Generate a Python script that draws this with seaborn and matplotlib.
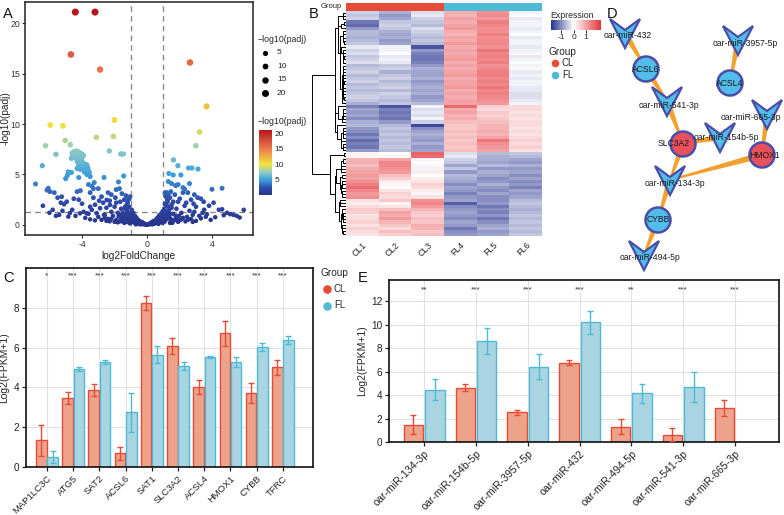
import numpy as np
import pandas as pd
import matplotlib
matplotlib.use("Agg")
import matplotlib.pyplot as plt
import seaborn as sns
from matplotlib.colors import LinearSegmentedColormap, ListedColormap, Normalize
from matplotlib.cm import ScalarMappable
from matplotlib.patches import Polygon, Circle

# ---------------- data ----------------
# Panel A: volcano points (log2FoldChange, -log10(padj))
volc_lfc = [-4.41, -3.20, -4.68, -2.89, 2.63, 3.65, -5.95, -5.17, -2.01, -3.12, -2.07, 3.22, 2.99,
            -6.24, -5.03, -4.72, -5.60, -2.32, -1.62, -1.46,
            -4.60, -4.50, -4.40, -4.30, -4.20, -4.10, -4.00, -4.55, -4.45, -4.30, -4.15, -4.00, -3.92,
            -4.65, -4.35, -4.25, -4.10,
            -4.30, -4.15, -4.00, -3.90, -3.80, -3.70, -4.20, -4.05, -3.85, -3.65, -3.95, -3.75, -3.60,
            -4.10, -3.55, -3.70, -3.85, -4.30, -3.50,
            -6.44, -4.85, -4.65, -5.00, -4.90, -4.20, -3.40, -3.60, -3.25, -3.00, -3.30, -2.65, -2.40,
            -1.44, -1.76, -1.90, -1.55, -1.70, -1.30, -1.40, -1.20, -1.10,
            -6.85, -6.07, -5.97, -6.15, -5.25, -4.94, -5.30, -5.10, -4.74, -4.84, -4.12, -3.50, -3.71,
            -2.89, -2.48, -2.28, -3.10, -2.65,
            -5.70, -5.50, -4.60, -4.50, -4.30, -4.10, -4.00, -3.90, -3.60, -3.40, -3.20, -2.80, -2.70,
            -2.60, -2.50, -2.30, -2.20, -2.10, -2.00, -1.90, -1.80, -1.70, -1.60, -1.50, -1.40, -5.40,
            -5.80, -6.00, -4.40, -3.80, -3.00, -2.40, -6.40, -5.60, -5.20, -4.20, -3.30, -3.50, -2.95,
            -2.20, -1.95, -1.65, -1.35, -1.25,
            1.62, 1.89, 2.54, 2.75, 3.12, 1.33, 1.60, 2.07, 1.30, 1.50, 1.90, 2.20, 2.30, 1.20, 1.45,
            1.70, 2.00, 2.50, 2.70, 2.90, 3.10, 3.30, 3.98, 4.60, 3.47, 4.08, 5.93, 4.60, 5.10, 5.31,
            5.68, 4.18, 4.70, 3.67, 2.30, 2.60, 2.80, 3.00, 3.40, 3.20, 2.10, 1.80, 1.50, 1.90, 2.40,
            1.30, 1.10, 1.25, 1.40, 1.60, 4.40, 3.50, 2.90, 3.80, 2.20, 1.75, 2.60, 2.85, 3.60, 4.90,
            5.50, 2.45, 1.95,
            -1.50, -1.45, -1.35, -1.30, -1.25, -1.20, -1.15, -1.10, -1.05, -1.00, -0.95, -0.90, -0.85,
            -0.80, -0.75, -0.70, -0.65, -0.60, -0.55, -0.50, -0.45, -0.40, -0.35, -0.30, -0.25, -0.20,
            -0.15, -0.10, -0.05, 0.00, 0.05, 0.10, 0.15, 0.20, 0.25, 0.30, 0.35, 0.40, 0.45, 0.50,
            0.55, 0.60, 0.65, 0.70, 0.75, 0.80, 0.85, 0.90, 0.95, 1.00, 1.05, 1.10, 1.15, 1.20, 1.25,
            1.30, 1.35, 1.40, 1.45, 1.50,
            -2.80, -2.50, -2.20, -1.90, -1.70, -1.60, 1.60, 1.80, 2.00, 2.20, 2.50, 2.70, 3.00,
            -1.40, -1.20, -1.00, -0.90, -0.80, -0.70, -0.60, -0.50, -0.40, -0.30, -0.20, 0.20, 0.30,
            0.40, 0.50, 0.60, 0.70, 0.80, 0.90, 1.00, 1.10, 1.20, 1.30, 1.40, -1.10, -0.95, -0.75,
            -0.65, 0.65, 0.75, 0.95, 1.05, -1.35, 1.35, -1.25, 1.25,
            -1.15, 1.15, 1.30, 1.10, -1.05,
            -2.00, -1.80, -1.55, -1.45, -1.30, -1.05, -0.85, -0.55, -0.35, 0.35, 0.55, 0.85, 1.05,
            1.45, 1.55, 1.70, 1.90, 2.10, 2.35, -2.30, -2.60, -3.20, -3.50, 2.80, 3.30, 3.90,
            -1.60, -1.20, -0.95, 1.00, 1.20, 1.60, -1.75, 1.75, -0.70, 0.70]
volc_nlp = [21.1, 21.1, 16.9, 15.4, 16.1, 11.75, 9.9, 9.83, 10.4, 8.68, 8.78, 9.2, 7.85,
            7.85, 8.38, 7.95, 7.0, 7.33, 7.03, 7.03,
            7.10, 7.25, 7.30, 7.30, 7.20, 7.10, 7.00, 6.80, 6.90, 6.95, 6.85, 6.70, 6.90,
            6.60, 6.60, 6.50, 6.45,
            6.30, 6.20, 6.30, 6.10, 6.00, 5.95, 5.95, 5.90, 5.80, 5.70, 5.60, 5.50, 5.40,
            5.50, 5.20, 5.00, 5.25, 5.60, 4.80,
            5.87, 5.25, 5.20, 4.60, 4.90, 4.70, 3.85, 4.00, 4.20, 3.60, 3.60, 4.70, 3.20,
            4.85, 4.26, 3.50, 3.10, 3.60, 2.90, 2.50, 2.20, 2.60,
            4.06, 3.63, 3.30, 3.45, 2.80, 2.30, 2.20, 2.05, 1.18, 0.82, 1.15, 1.80, 1.15,
            1.65, 2.47, 1.98, 1.16, 0.99,
            3.20, 2.70, 1.50, 2.60, 3.30, 3.40, 2.10, 1.30, 1.10, 1.50, 2.00, 2.80, 2.20,
            1.00, 1.70, 2.40, 1.30, 0.90, 1.80, 2.20, 1.20, 0.90, 1.60, 1.20, 0.80, 1.00,
            1.50, 1.20, 0.90, 0.70, 0.80, 0.60, 1.90, 0.90, 1.40, 2.50, 2.70, 3.20, 2.40,
            3.00, 2.70, 2.30, 1.80, 1.50,
            6.44, 5.87, 5.64, 5.64, 5.54, 5.10, 4.95, 4.95, 4.30, 4.10, 4.00, 3.70, 3.55, 3.20, 3.30,
            3.00, 2.60, 3.20, 2.50, 3.00, 2.70, 2.60, 3.53, 3.63, 2.30, 2.20, 1.49, 1.55, 1.06, 0.99,
            0.73, 0.76, 0.96, 1.06, 1.90, 1.40, 1.00, 1.80, 1.20, 0.90, 1.20, 1.60, 2.00, 2.30, 2.20,
            1.80, 2.10, 2.50, 2.70, 2.30, 1.50, 1.50, 1.30, 1.90, 3.20, 3.90, 4.10, 2.10, 0.80, 1.20,
            0.90, 0.80, 0.90,
            0.50, 1.00, 1.60, 0.30, 2.00, 1.30, 0.70, 1.80, 1.10, 0.40, 1.50, 0.90, 1.20,
            0.60, 0.90, 0.30, 0.70, 0.50, 0.20, 0.45, 0.30, 0.15, 0.30, 0.10, 0.20, 0.05,
            0.10, 0.04, 0.02, 0.01, 0.03, 0.06, 0.12, 0.08, 0.22, 0.15, 0.35, 0.20, 0.40, 0.30,
            0.55, 0.40, 0.75, 0.50, 0.95, 0.60, 1.10, 0.80, 1.35, 0.50, 1.60, 0.90, 2.00, 1.30, 2.30,
            0.70, 1.50, 1.10, 0.40, 1.70,
            0.50, 0.40, 0.60, 0.50, 0.35, 0.70, 0.40, 0.60, 0.45, 0.70, 0.50, 0.60, 0.40,
            0.20, 0.50, 0.80, 0.30, 0.25, 0.60, 0.15, 0.10, 0.05, 0.25, 0.15, 0.18, 0.05,
            0.10, 0.15, 0.25, 0.20, 0.30, 0.35, 1.00, 0.40, 0.60, 1.20, 0.20, 0.20, 0.60, 0.45,
            0.40, 0.30, 0.40, 0.20, 0.30, 0.90, 0.90, 1.10, 1.00,
            2.50, 2.80, 3.00, 3.20, 2.80,
            0.30, 0.25, 0.35, 0.60, 0.55, 0.15, 0.50, 0.35, 0.08, 0.10, 0.20, 0.45, 0.65,
            0.60, 0.20, 0.50, 0.30, 0.55, 0.35, 0.35, 0.70, 0.45, 0.55, 0.30, 0.65, 0.50,
            1.00, 0.90, 1.00, 0.70, 0.95, 1.10, 0.85, 0.90, 0.05, 0.10]

# Panel B: heatmap (row z-scores)
samples = ["CL1", "CL2", "CL3", "FL4", "FL5", "FL6"]
sample_group = ["CL", "CL", "CL", "FL", "FL", "FL"]
cl1 = [-0.4, -0.5, -0.4, -1.2, -1.3, -0.9, -0.6, -0.6, -0.7, -0.6, -0.5, -0.2, -0.4, -0.3, -0.5,
       -0.4, -0.3, -0.6, -0.5, -0.4, -0.6, -0.5, -0.4, -0.6, -0.5, -0.6, -0.5, -0.4, -0.5, -0.7,
       -1.1, -0.8, -0.9, -0.8, -1.0, -0.7, -0.6, -0.9, -1.0, -1.2, -1.0, -1.3, -1.1, -1.2, -0.9,
       0.1, 0.1, 0.8, 0.9, 0.7, 0.9, 1.0, 1.1, 1.0, 1.2, 1.4, 1.6, 1.3, 1.1, 1.2,
       0.3, 0.2, 0.4, 0.6, 0.5, 0.3, 0.4, 0.5, 0.3, 0.5, 0.4, 0.3]
cl2 = [-0.7, -0.9, -0.8, -0.5, -0.4, -0.5, -0.7, -0.8, -0.7, -0.9, -0.8, -0.1, -0.1, 0.0, -0.2,
       -0.1, -0.2, -0.5, -0.4, -0.7, -0.5, -0.4, -0.6, -0.5, -0.4, -0.6, -0.4, -0.5, -0.6, -0.5,
       -1.5, -1.1, -1.2, -1.1, -1.2, -0.9, -0.6, -0.5, -0.6, -0.5, -0.6, -0.5, -0.6, -0.5, -0.6,
       0.0, 0.1, 1.0, 1.3, 1.3, 1.2, 1.1, 0.7, 0.5, 0.2, 0.1, 0.0, 0.3, 0.5, 0.4,
       0.6, 0.1, 0.3, 0.7, 1.0, 0.9, 1.1, 0.8, 0.6, 0.4, 0.7, 0.5]
cl3 = [-0.3, -0.2, -0.4, -0.5, -0.6, -0.3, -0.4, -0.5, -0.6, -0.5, -0.6, -1.5, -0.9, -1.1, -1.2,
       -1.2, -1.1, -0.9, -0.7, -0.8, -0.8, -0.7, -0.9, -0.8, -0.7, -0.8, -0.7, -0.9, -0.8, -0.6,
       -0.1, -0.3, -0.2, -0.3, -0.1, -0.4, -1.6, -1.0, -0.8, -0.7, -0.8, -0.9, -0.7, -0.9, -0.8,
       1.7, 1.6, 0.1, 0.0, 0.1, -0.1, 0.2, 0.0, 0.2, 0.3, 0.5, 0.4, 0.2, 0.1, 0.3,
       1.2, 1.3, 1.1, 0.8, 0.6, 0.5, 0.7, 0.6, 0.9, 0.8, 0.6, 0.7]
fl4 = [0.9, 0.8, 1.0, 0.9, 1.0, 1.1, 0.9, 0.8, 1.0, 0.9, 1.1, 0.9, 1.0, 0.9, 1.0,
       1.1, 0.9, 1.0, 0.9, 1.0, 1.1, 0.9, 1.0, 1.0, 1.1, 0.9, 1.0, 0.9, 1.0, 1.0,
       1.6, 0.9, 1.0, 0.8, 0.9, 0.7, 0.6, 0.6, 0.7, 0.6, 0.7, 0.6, 0.7, 0.6, 0.7,
       -0.3, -0.2, -0.4, -0.5, -0.8, -0.5, -0.9, -0.6, -0.7, -0.8, -1.0, -0.8, -0.9, -1.1, -0.9,
       -0.8, -1.4, -1.0, -0.9, -0.8, -0.9, -1.0, -0.8, -0.9, -1.2, -1.0, -0.9]
fl5 = [1.2, 1.3, 1.1, 1.4, 1.3, 1.2, 1.2, 1.4, 1.2, 1.3, 1.3, 1.2, 1.5, 1.3, 1.4,
       1.3, 1.4, 1.2, 1.3, 1.4, 1.4, 1.3, 1.4, 1.3, 1.5, 1.3, 1.4, 1.3, 1.2, 1.1,
       0.5, 0.4, 0.6, 0.5, 0.6, 0.7, 0.8, 0.8, 0.9, 0.8, 1.0, 1.5, 1.2, 1.1, 1.0,
       -0.6, -0.7, -0.7, -0.8, -0.6, -0.9, -0.7, -0.8, -1.0, -0.9, -0.7, -0.9, -1.0, -0.8, -1.0,
       -1.0, -0.9, -1.2, -1.0, -1.1, -0.9, -1.2, -1.0, -0.8, -0.7, -0.9, -0.8]
fl6 = [-0.1, 0.0, -0.2, -0.1, -0.1, -0.2, -0.1, 0.0, -0.2, -0.1, -0.1, -0.2, -0.1, 0.1, -0.2,
       -0.1, 0.0, -0.1, 0.1, -0.2, -0.1, -0.2, -0.1, -0.1, -0.2, -0.2, -0.3, -0.3, -0.2, -0.1,
       0.4, 0.4, 0.3, 0.4, 0.3, 0.4, 0.4, 0.3, 0.4, 0.3, 0.4, 0.5, 0.4, 0.5, 0.3,
       -0.5, -0.6, -0.8, -0.9, -0.7, -0.9, -0.8, -1.0, -0.8, -1.0, -0.9, -1.1, -0.8, -0.9, -0.8,
       -0.6, -0.5, -0.6, -0.7, -0.6, -0.5, -0.6, -0.5, -0.6, -0.5, -0.6, -0.5]

# Panel C: genes
genes = ["MAP1LC3C", "ATG5", "SAT2", "ACSL6", "SAT1", "SLC3A2", "ACSL4", "HMOX1", "CYBB", "TFRC"]
genes_cl = [1.35, 3.46, 3.87, 0.68, 8.24, 6.07, 4.03, 6.71, 3.74, 5.02]
genes_cl_sd = [0.78, 0.31, 0.29, 0.32, 0.34, 0.40, 0.34, 0.64, 0.50, 0.38]
genes_fl = [0.50, 4.92, 5.29, 2.75, 5.65, 5.08, 5.54, 5.29, 6.01, 6.38]
genes_fl_sd = [0.29, 0.12, 0.10, 0.98, 0.42, 0.22, 0.04, 0.25, 0.20, 0.20]
genes_sig = ["*", "***", "***", "***", "***", "***", "***", "***", "***", "***"]

# Panel E: miRNAs
mirs = ["oar-miR-134-3p", "oar-miR-154b-5p", "oar-miR-3957-5p", "oar-miR-432",
        "oar-miR-494-5p", "oar-miR-541-3p", "oar-miR-665-3p"]
mirs_cl = [1.46, 4.63, 2.53, 6.77, 1.32, 0.63, 2.90]
mirs_cl_sd = [0.80, 0.27, 0.21, 0.22, 0.65, 0.57, 0.71]
mirs_fl = [4.46, 8.59, 6.43, 10.18, 4.15, 4.69, 0.0]
mirs_fl_sd = [0.88, 1.10, 1.08, 1.02, 0.82, 1.28, 0.0]
mirs_sig = ["**", "***", "***", "***", "**", "***", "***"]

# Panel D: network (layout positions in figure pixels)
node_names = ["oar-miR-432", "ACSL6", "oar-miR-3957-5p", "ACSL4", "oar-miR-541-3p",
              "oar-miR-665-3p", "SLC3A2", "oar-miR-154b-5p", "HMOX1", "oar-miR-134-3p",
              "CYBB", "oar-miR-494-5p"]
node_kind = ["mir", "gene", "mir", "gene", "mir", "mir", "gene", "mir", "gene", "mir", "gene", "mir"]
node_group = ["", "FL", "", "FL", "", "", "CL", "", "CL", "", "FL", ""]
node_x = [625, 646, 738, 730, 667, 767, 683, 720, 762, 670, 658, 644]
node_y = [33, 69, 40, 83, 101, 114, 144, 137, 155, 180, 220, 255]
node_label_dx = [3, 0, 7, 0, 2, -16, -9, 6, 3, 5, 0, 6]
node_label_dy = [2, 0, 4, 0, 5, 4, 0, 1, 0, 3, 0, 3]
edges_src = ["oar-miR-432", "ACSL6", "oar-miR-541-3p", "oar-miR-154b-5p", "oar-miR-3957-5p",
             "oar-miR-665-3p", "SLC3A2", "HMOX1", "oar-miR-134-3p", "CYBB"]
edges_dst = ["ACSL6", "oar-miR-541-3p", "SLC3A2", "SLC3A2", "ACSL4",
             "HMOX1", "oar-miR-134-3p", "oar-miR-134-3p", "CYBB", "oar-miR-494-5p"]

# ---------------- style ----------------
sns.set_theme(style="white")
plt.rcParams["font.family"] = ["Liberation Sans", "DejaVu Sans"]
plt.rcParams["axes.unicode_minus"] = False

CL_COL, FL_COL = "#E64B35", "#4DBBD5"
CL_FILL, FL_FILL = "#EDA38A", "#A9D5E2"

W, H = 784, 515
fig = plt.figure(figsize=(W / 100, H / 100), dpi=100)


def px_axes(l, t, r, b, **kw):
    return fig.add_axes([l / W, 1 - b / H, (r - l) / W, (b - t) / H], **kw)


def frame(ax, lw=1.1, color="#222222"):
    for s in ax.spines.values():
        s.set_visible(True)
        s.set_linewidth(lw)
        s.set_color(color)


# ---------------- A: volcano ----------------
volc_cmap = LinearSegmentedColormap.from_list(
    "volc", [(0.0, "#28358c"), (0.11, "#2f4cab"), (0.23, "#3a9fdc"), (0.35, "#8fcbc6"),
             (0.47, "#f1e43a"), (0.71, "#ee7b4d"), (1.0, "#b5161b")])
volc_norm = (0.2, 21.0)
SZ_MIN, SZ_MAX = 10, 26
df_v = pd.DataFrame({"lfc": volc_lfc, "nlp": volc_nlp}).sort_values("nlp")
ax_a = px_axes(25, 2, 253, 235)
sns.scatterplot(data=df_v, x="lfc", y="nlp", hue="nlp", size="nlp", palette=volc_cmap,
                hue_norm=volc_norm, sizes=(SZ_MIN, SZ_MAX), size_norm=(0, 21), linewidth=0,
                legend=False, ax=ax_a, zorder=3)
for xv in (-1, 1):
    ax_a.axvline(xv, color="#8a8a8a", lw=1, ls=(0, (4, 3)), zorder=2)
ax_a.axhline(-np.log10(0.05), color="#8a8a8a", lw=1, ls=(0, (4, 3)), zorder=2)
ax_a.set_xlim(-7.5, 6.5)
ax_a.set_ylim(-1, 22.1)
ax_a.set_xticks([-4, 0, 4])
ax_a.set_yticks([0, 5, 10, 15, 20])
ax_a.set_xlabel("log2FoldChange", fontsize=7.3, labelpad=1)
ax_a.set_ylabel("-log10(padj)", fontsize=7.3)
ax_a.yaxis.set_label_coords(-0.062, 0.5)
ax_a.tick_params(bottom=True, left=True, direction="out", length=2.5, width=0.8,
                 labelsize=6.3, pad=1.2, colors="#333333")
frame(ax_a)

ax_cb = px_axes(259, 130, 272, 195)
cb = fig.colorbar(ScalarMappable(norm=Normalize(*volc_norm), cmap=volc_cmap), cax=ax_cb)
cb.outline.set_visible(False)
cb.set_ticks([5, 10, 15, 20])
cb.ax.tick_params(labelsize=6, length=2.5, color="white", direction="in", pad=2, width=0.8)

# ---------------- B: heatmap ----------------
df_h = pd.DataFrame({"CL1": cl1, "CL2": cl2, "CL3": cl3, "FL4": fl4, "FL5": fl5, "FL6": fl6})
hm_cmap = LinearSegmentedColormap.from_list(
    "expr", [(0.0, "#26328f"), (0.45, "#ffffff"), (1.0, "#e5343a")])
HM_VMIN, HM_VMAX = -1.8, 2.2
ax_hm = px_axes(346, 11, 542, 236)
sns.heatmap(df_h, ax=ax_hm, cmap=hm_cmap, vmin=HM_VMIN, vmax=HM_VMAX, cbar=False,
            xticklabels=samples, yticklabels=False, linewidths=0)
ax_hm.set_xticklabels(samples, rotation=45, ha="right", rotation_mode="anchor", fontsize=6.3)
ax_hm.tick_params(axis="x", length=0, pad=3)

ax_g = px_axes(346, 3, 542, 10.5)
grp_codes = pd.DataFrame([[0 if g == "CL" else 1 for g in sample_group]])
sns.heatmap(grp_codes, ax=ax_g, cmap=ListedColormap([CL_COL, FL_COL]), vmin=0, vmax=1,
            cbar=False, xticklabels=False, yticklabels=False)

# dendrogram via order-preserving average linkage
X = df_h.values
n = X.shape[0]
clusters = [{"idx": [i], "pos": i + 0.5, "h": 0.0} for i in range(n)]
links = []
D = np.sqrt(((X[:, None, :] - X[None, :, :]) ** 2).sum(-1))
while len(clusters) > 1:
    best = None
    for k in range(len(clusters) - 1):
        a, b = clusters[k], clusters[k + 1]
        d = D[np.ix_(a["idx"], b["idx"])].mean()
        if best is None or d < best[0]:
            best = (d, k)
    d, k = best
    a, b = clusters[k], clusters[k + 1]
    h = max(d, a["h"], b["h"])
    links.append((a["pos"], a["h"], b["pos"], b["h"], h))
    clusters[k:k + 2] = [{"idx": a["idx"] + b["idx"], "pos": (a["pos"] + b["pos"]) / 2, "h": h}]
ax_d = px_axes(312, 11, 346, 236)
for pa, ha, pb, hb, h in links:
    ax_d.plot([ha, h, h, hb], [pa, pa, pb, pb], color="black", lw=0.7)
ax_d.set_xlim(links[-1][4] * 1.01, 0)
ax_d.set_ylim(n, 0)
ax_d.axis("off")

ax_ecb = px_axes(551, 20, 601, 30)
ecb = fig.colorbar(ScalarMappable(norm=Normalize(HM_VMIN, HM_VMAX), cmap=hm_cmap),
                   cax=ax_ecb, orientation="horizontal")
ecb.outline.set_visible(False)
ecb.set_ticks([-1, 0, 1])
ecb.ax.tick_params(labelsize=6, length=2, direction="out", pad=1, width=0.7)


# ---------------- bar panels ----------------
def bar_panel(ax, cats, cl, cl_sd, fl, fl_sd, sig, ylim, yticks, xlim, sig_y, xfs, width, gap):
    df = pd.DataFrame({"cat": cats * 2, "group": ["CL"] * len(cats) + ["FL"] * len(cats),
                       "val": cl + fl})
    sns.barplot(data=df, x="cat", y="val", hue="group", order=cats, hue_order=["CL", "FL"],
                palette={"CL": CL_FILL, "FL": FL_FILL}, saturation=1, width=width, gap=gap,
                errorbar=None, legend=False, ax=ax, zorder=2)
    cl_rgba = matplotlib.colors.to_rgba(CL_FILL)
    cl_bars, fl_bars = [], []
    for p in ax.patches:
        if np.allclose(p.get_facecolor(), cl_rgba, atol=0.01):
            p.set_edgecolor(CL_COL)
            cl_bars.append(p)
        else:
            p.set_edgecolor(FL_COL)
            fl_bars.append(p)
        p.set_linewidth(1.0)
    for bars, sds, col in ((cl_bars, cl_sd, CL_COL), (fl_bars, fl_sd, FL_COL)):
        bars = sorted(bars, key=lambda q: q.get_x())
        for p, sd in zip(bars, sds):
            if p.get_height() <= 0:
                continue
            ax.errorbar(p.get_x() + p.get_width() / 2, p.get_height(), yerr=sd, fmt="none",
                        ecolor=col, elinewidth=1.0, capsize=2.2, capthick=1.0, zorder=3)
    ax.set_xlim(*xlim)
    ax.set_ylim(*ylim)
    ax.set_yticks(yticks)
    ax.grid(True, color="#e2e2e2", lw=0.8)
    ax.set_axisbelow(True)
    for xt, s in zip(ax.get_xticks(), sig):
        ax.text(xt, sig_y, s, ha="center", va="center", fontsize=6, color="#333333")
    ax.set_xlabel("")
    ax.set_ylabel("Log2(FPKM+1)", fontsize=7.5, labelpad=3)
    ax.set_xticks(ax.get_xticks())
    ax.set_xticklabels(cats, rotation=45, ha="right", rotation_mode="anchor", fontsize=xfs)
    ax.tick_params(bottom=True, left=True, direction="out", length=3, width=0.9,
                   labelsize=7.2, pad=2, colors="#222222")
    ax.tick_params(axis="x", labelsize=xfs)
    frame(ax, lw=1.2, color="#111111")


ax_c = px_axes(26, 268, 313, 467)
bar_panel(ax_c, genes, genes_cl, genes_cl_sd, genes_fl, genes_fl_sd, genes_sig,
          (0, 10.0), [0, 2, 4, 6, 8], (-0.8, 10.15), 9.6, 6.8, 0.86, 0.06)

ax_e = px_axes(389, 280, 779, 442)
bar_panel(ax_e, mirs, mirs_cl, mirs_cl_sd, mirs_fl, mirs_fl_sd, mirs_sig,
          (0, 13.8), [0, 2, 4, 6, 8, 10, 12], (-0.68, 6.85), 13.0, 7.6, 0.83, 0.1)

# ---------------- overlay: labels, legends, network ----------------
ov = fig.add_axes([0, 0, 1, 1], zorder=10)
ov.set_xlim(0, W)
ov.set_ylim(H, 0)
ov.axis("off")
ov.patch.set_alpha(0)

for lab, (x, y) in {"A": (3, 14), "B": (309, 14), "C": (3, 278), "D": (607, 14), "E": (358, 278)}.items():
    ov.text(x, y, lab, fontsize=10.5, ha="left", va="center", color="#111111")

# A legends
ov.text(258, 40, "\u2212log10(padj)", fontsize=6.3, va="center")
for i, v in enumerate([5, 10, 15, 20]):
    s = SZ_MIN + (v / 21) * (SZ_MAX - SZ_MIN)
    ov.scatter([265], [53 + i * 13.4], s=s, color="black", linewidths=0)
    ov.text(277, 53 + i * 13.4, str(v), fontsize=6, va="center")
ov.text(258, 121, "\u2212log10(padj)", fontsize=6.3, va="center")

# B legends
ov.text(342, 7, "Group", fontsize=5.5, ha="right", va="center")
ov.text(550, 15, "Expression", fontsize=6.3, va="center")
ov.text(549, 52, "Group", fontsize=7.3, va="center")
for i, (g, c) in enumerate([("CL", CL_COL), ("FL", FL_COL)]):
    ov.scatter([555], [63 + i * 11.5], s=30, color=c, linewidths=0)
    ov.text(562, 63 + i * 11.5, g, fontsize=7, va="center")

# C legend
ov.text(321, 273, "Group", fontsize=7.3, va="center")
for i, (g, c) in enumerate([("CL", CL_COL), ("FL", FL_COL)]):
    ov.scatter([327], [289 + i * 16.5], s=38, color=c, linewidths=0)
    ov.text(334, 289 + i * 16.5, g, fontsize=7, va="center")

# D network
pos = {nm: (x, y) for nm, x, y in zip(node_names, node_x, node_y)}
for s, d in zip(edges_src, edges_dst):
    p0, p1 = np.array(pos[s], float), np.array(pos[d], float)
    v = p1 - p0
    nrm = np.array([-v[1], v[0]]) / np.hypot(*v)
    w0, w1 = 6.5, 1.8
    poly = [p0 + nrm * w0 / 2, p1 + nrm * w1 / 2, p1 - nrm * w1 / 2, p0 - nrm * w0 / 2]
    ov.add_patch(Polygon(poly, closed=True, facecolor="#F3A12C", edgecolor="none", zorder=1))
v_shape = np.array([(-15, -14), (0, -3), (15, -14), (0, 15)], float)
for nm, kind, grp, x, y, dx, dy in zip(node_names, node_kind, node_group, node_x, node_y,
                                       node_label_dx, node_label_dy):
    if kind == "mir":
        ov.add_patch(Polygon(v_shape + [x, y], closed=True, facecolor="#52BDEA",
                             edgecolor="#4A4DAA", lw=1.6, joinstyle="miter", zorder=2))
    else:
        fc = "#E8505B" if grp == "CL" else "#52BDEA"
        ov.add_patch(Circle((x, y), 12.5, facecolor=fc, edgecolor="#4A4DAA", lw=1.8, zorder=2))
    ov.text(x + dx, y + dy, nm, fontsize=6.2, ha="center", va="center", color="#1a1a1a", zorder=3)

fig.savefig("out.png", dpi=100)
